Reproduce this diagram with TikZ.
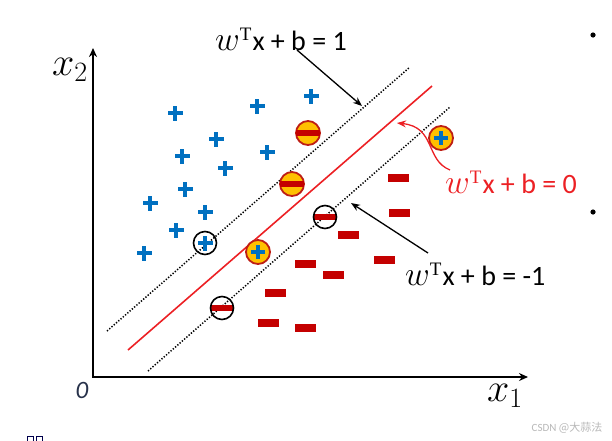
\RequirePackage{fix-cm}
\documentclass[tikz,border=0pt]{standalone}
\usepackage{fontspec}
\setmainfont{Carlito}
\newfontfamily\serifrm{Liberation Serif}
\newfontfamily\cjk{Noto Sans CJK SC}
\usetikzlibrary{arrows.meta,calc}
\definecolor{pblue}{RGB}{0,112,192}
\definecolor{mred}{RGB}{196,0,0}
\definecolor{goldf}{RGB}{255,192,0}
\definecolor{ringred}{RGB}{190,30,20}
\definecolor{hred}{RGB}{236,32,36}
\definecolor{zerocol}{RGB}{40,50,75}
\newcommand\eqlab[1]{{\fontsize{34}{34}\selectfont$w$}\raisebox{10pt}{\fontsize{19}{19}\selectfont\serifrm T}\hspace{1pt}x + b = #1}
\tikzset{
  bplus/.pic={\fill[pblue] (-7.5pt,-2.4pt) rectangle (7.5pt,2.4pt);
              \fill[pblue] (-2.4pt,-7.5pt) rectangle (2.4pt,7.5pt);},
  splus/.pic={\fill[pblue] (-7pt,-2.3pt) rectangle (7pt,2.3pt);
              \fill[pblue] (-2.3pt,-7pt) rectangle (2.3pt,7pt);},
  rminus/.pic={\fill[mred] (-10.5pt,-3.6pt) rectangle (10.5pt,3.6pt);},
  goldc/.style={fill=goldf, draw=ringred, line width=1.8pt},
  svring/.style={draw=black, line width=1.6pt},
  margin/.style={black, line width=1.5pt, dash pattern=on 1.3pt off 1.7pt},
  hyper/.style={hred, line width=1.6pt},
  axis/.style={black, line width=2.8pt, {Stealth[length=9pt,width=8pt]}-{Stealth[length=9pt,width=8pt]}},
  callout/.style={black, line width=1.3pt, -{Stealth[length=9pt,width=7pt]}},
  eqtext/.style={font=\fontsize{28}{32}\selectfont, inner sep=0pt, anchor=base west},
}
\begin{document}
\begin{tikzpicture}[x=1pt,y=-1pt]
\useasboundingbox (0,0) rectangle (612,440);
% axes
\coordinate (ytop) at (93,48);
\coordinate (xend) at (528,377);
\draw[axis] (ytop) |- (xend);
\node[font=\fontsize{40}{44}\selectfont, inner sep=0pt] (lx2) at (70,70) {$x_2$};
\node[font=\fontsize{40}{44}\selectfont, inner sep=0pt] (lx1) at (505,396) {$x_1$};
\node[font=\fontsize{25}{29}\selectfont\itshape, text=zerocol, inner sep=0pt] (l0) at (82,390) {0};
% margin and hyperplane lines
\coordinate (up1) at (107,331); \coordinate (up2) at (410,67);
\coordinate (hp1) at (128,350); \coordinate (hp2) at (432,86);
\coordinate (lo1) at (148,371); \coordinate (lo2) at (450,107);
\draw[margin] (up1) -- (up2);
\draw[hyper] (hp1) -- (hp2);
\draw[margin] (lo1) -- (lo2);
% blue pluses
\foreach \p in {(175,113),(257,106),(311,96),(216,139),(182,156),(267,152),(225,168),(185,189),(150,203),(205,212),(176,230),(144,253),(205,243)}
  \pic at \p {bplus};
% red minuses
\foreach \p in {(398,178),(399,213),(348,235),(384,260),(305,264),(333,275),(275,293),(268,323),(305,328)}
  \pic at \p {rminus};
% support vectors
\draw[svring] (205,243) circle (11.5pt);
\fill[mred] (211,305) rectangle (233,311);
\draw[svring] (222,308) circle (11.5pt);
\fill[mred] (314,214) rectangle (336,220);
\draw[svring] (325,217) circle (11.5pt);
% misclassified / in-margin points
\draw[goldc] (308,133) circle (12pt); \fill[mred] (296,130) rectangle (320,136);
\draw[goldc] (292,184) circle (12pt); \fill[mred] (280,181) rectangle (304,187);
\draw[goldc] (258,252) circle (12pt); \pic at (258,252) {splus};
\draw[goldc] (441,138) circle (12pt); \pic at (441,138) {splus};
% labels
\node[eqtext] (lab1) at (215,50) {\eqlab{1}};
\node[eqtext, text=hred] (lab0) at (445,193) {\eqlab{0}};
\node[eqtext] (labm) at (405,285) {\eqlab{-1}};
% callouts
\coordinate (s1) at (297,50); \coordinate (t1) at (362,106);
\draw[callout] (s1) -- (t1);
\coordinate (sm) at (428,253); \coordinate (tm) at (351,203);
\draw[callout] (sm) -- (tm);
\coordinate (s0) at (450,170); \coordinate (t0) at (397,123);
\draw[hred, line width=1.3pt, -{Stealth[length=9pt,width=7pt]}] (s0) .. controls (425,160) and (436,127) .. (t0);
% slide bullets
\fill[black] (593,35) circle (2.6pt);
\fill[black] (593,212) circle (2.6pt);
% bottom-left glyph remnants
\draw[black!70!blue, line width=0.6pt] (27,436.5) rectangle (33.5,442);
\draw[black!70!blue, line width=0.6pt] (36,436.5) rectangle (42.5,442);
% watermark
\node[text=black!28, font=\fontsize{11}{13}\selectfont, inner sep=0pt] (wm) at (567,428) {CSDN \cjk @大蒜法};
\end{tikzpicture}
\end{document}
